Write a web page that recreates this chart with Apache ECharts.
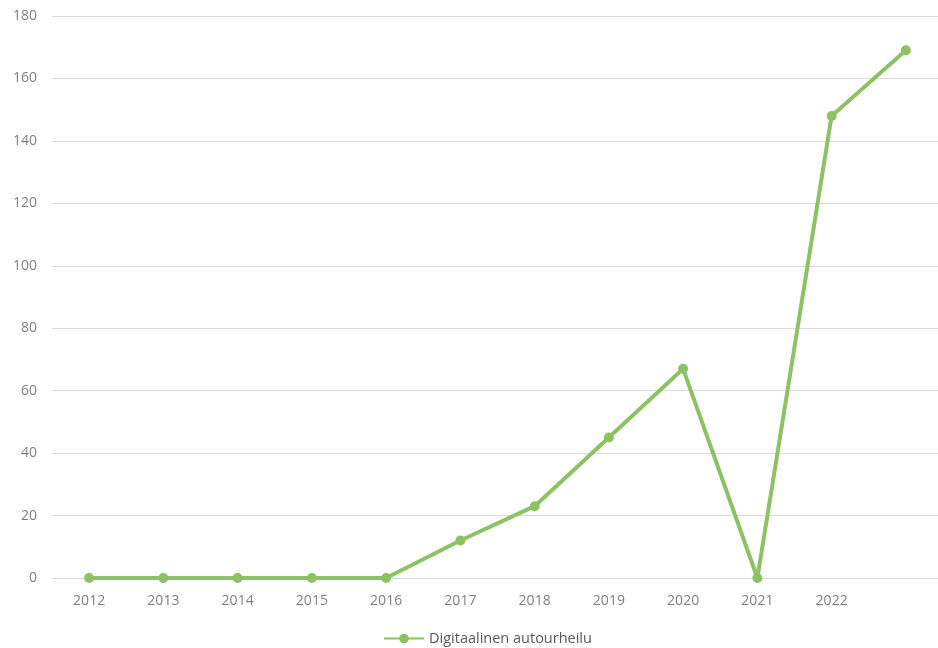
<!DOCTYPE html>
<html>
<head>
<meta charset="utf-8">
<script src="https://cdn.jsdelivr.net/npm/echarts@6/dist/echarts.min.js"></script>
<style>html,body{margin:0;padding:0;background:#fff;}#c{width:938px;height:648px;}</style>
</head>
<body>
<div id="c"></div>
<script>
const categories = ['2012','2013','2014','2015','2016','2017','2018','2019','2020','2021','2022',''];
const seriesName = 'Digitaalinen autourheilu';
const values = [0,0,0,0,0,12,23,45,67,0,148,169];
const yTicks = {min:0, max:180, interval:20};

const chart = echarts.init(document.getElementById('c'));
const green = '#8cc264';
const textColor = '#7f7f7f';
const font = 'Open Sans';
chart.setOption({
  animation:false,
  grid:{left:52,width:891,top:16,height:562,containLabel:false,outerBoundsMode:'none'},
  legend:{
    top:626,left:378,
    itemWidth:40,itemHeight:12,
    data:[{name:seriesName}],
    textStyle:{color:'#595959',fontSize:14.5,fontFamily:font},
    itemGap:5
  },
  xAxis:{
    type:'category',data:categories,boundaryGap:true,
    axisLine:{show:false},axisTick:{show:false},
    axisLabel:{color:textColor,fontSize:14,fontFamily:font,margin:16,interval:0}
  },
  yAxis:{
    type:'value',min:yTicks.min,max:yTicks.max,interval:yTicks.interval,
    axisLine:{show:false},axisTick:{show:false},
    axisLabel:{color:textColor,fontSize:14,fontFamily:font,margin:15},
    splitLine:{lineStyle:{color:'#d9d9d9',width:1}}
  },
  series:[{
    name:seriesName,type:'line',data:values,
    symbol:'circle',symbolSize:10,
    lineStyle:{color:green,width:4},
    itemStyle:{color:green}
  }]
});
</script>
</body>
</html>
